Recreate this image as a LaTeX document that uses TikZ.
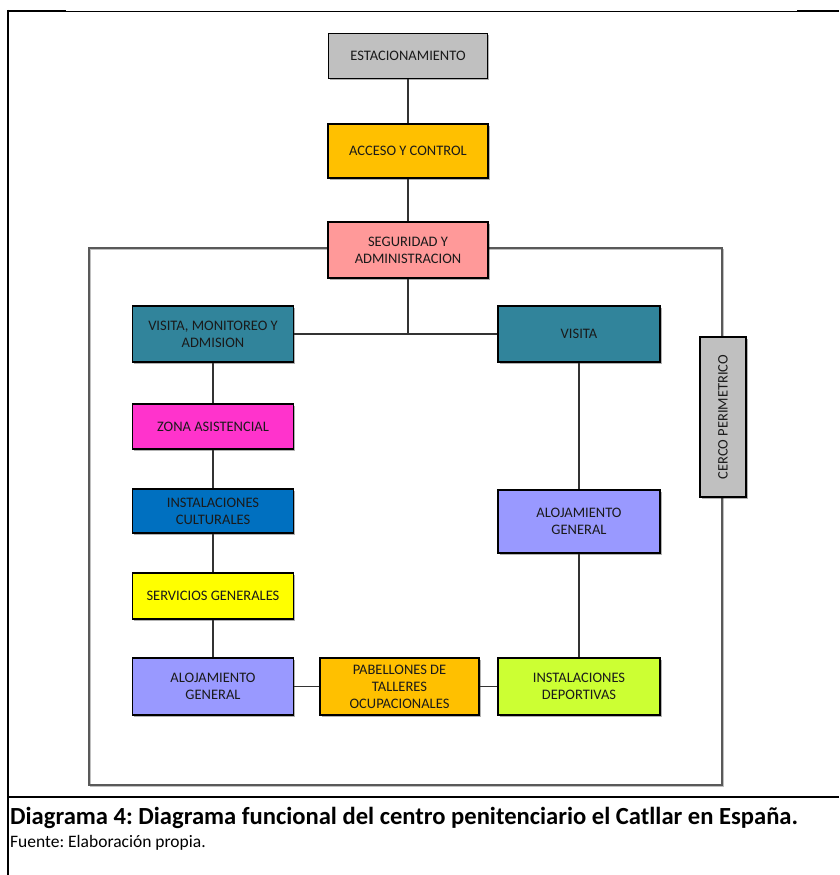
\documentclass[tikz,border=0pt]{standalone}
\usepackage{fontspec}
\setmainfont{Carlito}
\usetikzlibrary{shadows}
\definecolor{cgray}{HTML}{C0C0C0}
\definecolor{corange}{HTML}{FFC000}
\definecolor{cpink}{HTML}{FF9999}
\definecolor{cteal}{HTML}{31849B}
\definecolor{cmagenta}{HTML}{FF33CC}
\definecolor{cblue}{HTML}{0070C0}
\definecolor{cyellow}{HTML}{FFFF00}
\definecolor{clav}{HTML}{9999FF}
\definecolor{clime}{HTML}{CCFF33}
\definecolor{ctext}{HTML}{1A1A1A}
\definecolor{cframe}{HTML}{595959}
\tikzset{
  box/.style={draw=black, line width=1.1pt, align=center, inner sep=0pt,
    text=ctext, font=\fontsize{14.5}{17}\selectfont,
    drop shadow={shadow xshift=1.5pt, shadow yshift=-1.5pt, fill=black, opacity=0.3}},
  conn/.style={draw=black!80, line width=1.3pt},
  frameline/.style={draw=cframe, line width=2pt},
}
\frenchspacing
\begin{document}
\begin{tikzpicture}[x=1pt,y=-1pt]
\useasboundingbox (0,0) rectangle (839,875);
% outer table frame
\draw[line width=0.8pt] (8,11) -- (839,11);
\draw[line width=2pt] (7,11) -- (66,11);
\draw[line width=2pt] (797,11) -- (839,11);
\draw[line width=2pt] (8,10) -- (8,875);
\draw[line width=2pt] (7,797) -- (839,797);
% perimeter rectangle
\draw[frameline, drop shadow={shadow xshift=1.5pt, shadow yshift=-1.5pt, opacity=0.25, fill=none, draw=black}] (89,248) rectangle (722,785);
% nodes
\node[box, fill=cgray, minimum width=159pt, minimum height=45pt] (estac) at (408,56) {ESTACIONAMIENTO};
\node[box, fill=corange, minimum width=160pt, minimum height=54pt] (acceso) at (408,151) {ACCESO Y CONTROL};
\node[box, fill=cpink, minimum width=160pt, minimum height=56pt] (seg) at (408,250) {SEGURIDAD Y\\ADMINISTRACION};
\node[box, fill=cteal, minimum width=161pt, minimum height=56pt] (vma) at (213,334) {VISITA, MONITOREO Y\\ADMISION};
\node[box, fill=cteal, minimum width=162pt, minimum height=56pt] (visita) at (579,334) {VISITA};
\node[box, fill=cmagenta, minimum width=161pt, minimum height=45pt] (zona) at (213,426.5) {ZONA ASISTENCIAL};
\node[box, fill=cblue, minimum width=161pt, minimum height=44pt] (cult) at (213,511) {INSTALACIONES\\CULTURALES};
\node[box, fill=cyellow, minimum width=161pt, minimum height=46pt] (serv) at (213,596) {SERVICIOS GENERALES};
\node[box, fill=clav, minimum width=161pt, minimum height=57pt] (alojL) at (213,686.5) {ALOJAMIENTO\\GENERAL};
\node[box, fill=corange, minimum width=159pt, minimum height=57pt] (pab) at (399.5,686.5) {PABELLONES DE\\TALLERES\\OCUPACIONALES};
\node[box, fill=clime, minimum width=162pt, minimum height=57pt] (dep) at (579,686.5) {INSTALACIONES\\DEPORTIVAS};
\node[box, fill=clav, minimum width=162pt, minimum height=63pt] (alojR) at (579,521.5) {ALOJAMIENTO\\GENERAL};
\node[box, fill=cgray, minimum width=160pt, minimum height=46pt, rotate=90] (cerco) at (723,417) {CERCO PERIMETRICO};
% connectors
\draw[conn] (estac) -- (acceso);
\draw[conn] (acceso) -- (seg);
\draw[conn] (vma) -- (visita);
\draw[conn] (seg.south) -- (seg.south |- vma.east);
\draw[conn] (vma) -- (zona);
\draw[conn] (zona) -- (cult);
\draw[conn] (cult) -- (serv);
\draw[conn] (serv) -- (alojL);
\draw[conn] (alojL) -- (pab);
\draw[conn] (pab) -- (dep);
\draw[conn] (visita) -- (alojR);
\draw[conn] (alojR) -- (dep);
% caption
\node[anchor=west, inner sep=0pt, font=\fontsize{24.6}{28}\selectfont\bfseries] (cap) at (10,818) {Diagrama 4: Diagrama funcional del centro penitenciario el Catllar en España.};
\node[anchor=west, inner sep=0pt, font=\fontsize{17.5}{20}\selectfont] (src) at (10,843) {Fuente: Elaboración propia.};
\end{tikzpicture}
\end{document}
